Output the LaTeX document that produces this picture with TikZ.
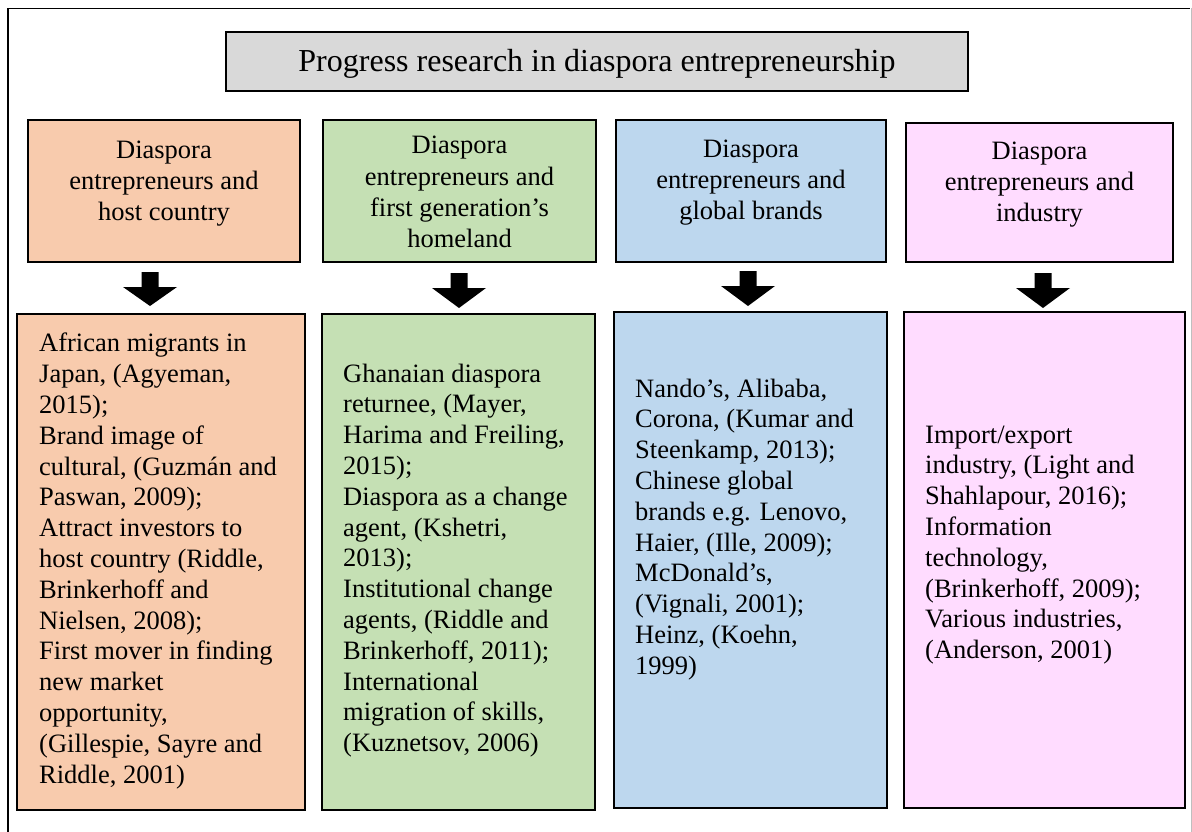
\documentclass[tikz,border=0pt]{standalone}
\usepackage{fontspec}
\setmainfont{Liberation Serif}
\definecolor{peach}{HTML}{F8CBAD}
\definecolor{leaf}{HTML}{C5E0B4}
\definecolor{sky}{HTML}{BDD7EE}
\definecolor{rose}{HTML}{FFDCFF}
\definecolor{titlegray}{HTML}{D9D9D9}
\newcommand\blockarrow[4]{%
  \fill[black] (#1-8.5,#2) -- (#1+8.5,#2) -- (#1+8.5,#3) -- (#1+27,#3) -- (#1,#4) -- (#1-27,#3) -- (#1-8.5,#3) -- cycle;}
\begin{document}
\begin{tikzpicture}[x=1pt,y=-1pt,
  topbox/.style={draw=black, line width=1.4pt, inner sep=0pt},
  lowbox/.style={draw=black, line width=1.8pt, inner sep=0pt},
  headtxt/.style={inner sep=0pt, font=\fontsize{26.5}{31}\selectfont, align=center, anchor=base},
  bodytxt/.style={inner sep=0pt, font=\fontsize{26.5}{30.8}\selectfont, align=left, anchor=base west}
]
\useasboundingbox (0,0) rectangle (1192,832);
% outer frame
\draw[line width=1.5pt] (8,832) -- (8,8.5) -- (1190,8.5);
\draw[line width=0.8pt, black!25] (1191,8.5) -- (1191,832);

% title
\path[topbox, fill=titlegray] (226,32) rectangle (968,91);
\node[inner sep=0pt, font=\fontsize{32}{38}\selectfont, anchor=base] (titletxt) at (597,72) {Progress research in diaspora entrepreneurship};

% top boxes
\path[topbox, fill=peach] (28,120) rectangle (300,262);
\path[topbox, fill=leaf] (323,120) rectangle (596,262);
\path[topbox, fill=sky] (616,120) rectangle (886,262);
\path[topbox, fill=rose] (906,123) rectangle (1173,262);
% base anchor = baseline of the last line
\node[headtxt] (h1) at (164,220) {Diaspora\\entrepreneurs and\\host country};
\node[headtxt] (h2) at (459.5,247) {Diaspora\\entrepreneurs and\\first generation’s\\homeland};
\node[headtxt] (h3) at (751,219) {Diaspora\\entrepreneurs and\\global brands};
\node[headtxt] (h4) at (1039.5,221) {Diaspora\\entrepreneurs and\\industry};

% arrows
\blockarrow{150}{272}{287}{306}
\blockarrow{459}{273}{288}{308}
\blockarrow{748}{271}{286}{306}
\blockarrow{1043}{273}{288}{308}

% bottom boxes
\path[lowbox, fill=peach] (17,314) rectangle (305,810);
\path[lowbox, fill=leaf] (322,314) rectangle (595,810);
\path[lowbox, fill=sky] (614,312) rectangle (887,808);
\path[lowbox, fill=rose] (904,312) rectangle (1185,808);

\node[bodytxt] (b1) at (39,783) {African migrants in\\Japan, (Agyeman,\\2015);\\Brand image of\\cultural, (Guzmán and\\Paswan, 2009);\\Attract investors to\\host country (Riddle,\\Brinkerhoff and\\Nielsen, 2008);\\First mover in finding\\new market\\opportunity,\\(Gillespie, Sayre and\\Riddle, 2001)};
\node[bodytxt] (b2) at (343,751.6) {Ghanaian diaspora\\returnee, (Mayer,\\Harima and Freiling,\\2015);\\Diaspora as a change\\agent, (Kshetri,\\2013);\\Institutional change\\agents, (Riddle and\\Brinkerhoff, 2011);\\International\\migration of skills,\\(Kuznetsov, 2006)};
\node[bodytxt] (b3) at (635,674.2) {Nando’s, Alibaba,\\Corona, (Kumar and\\Steenkamp, 2013);\\Chinese global\\brands e.g. Lenovo,\\Haier, (Ille, 2009);\\McDonald’s,\\(Vignali, 2001);\\Heinz, (Koehn,\\1999)};
\node[bodytxt] (b4) at (925,658.6) {Import/export\\industry, (Light and\\Shahlapour, 2016);\\Information\\technology,\\(Brinkerhoff, 2009);\\Various industries,\\(Anderson, 2001)};
\end{tikzpicture}
\end{document}
